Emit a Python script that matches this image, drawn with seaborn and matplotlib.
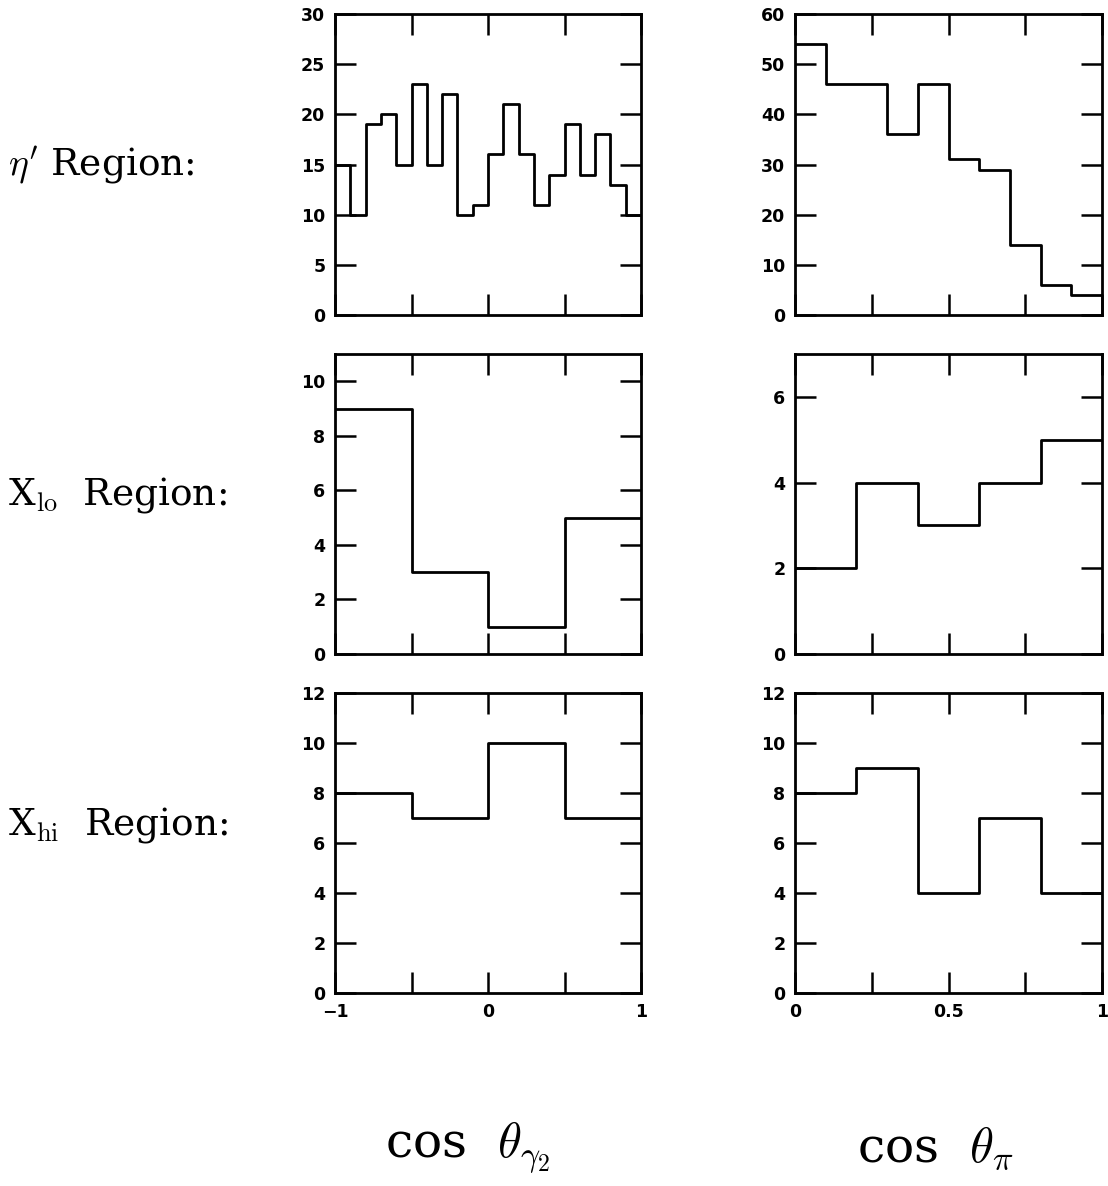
import numpy as np
import pandas as pd
import matplotlib
matplotlib.use("Agg")
import matplotlib.pyplot as plt
import seaborn as sns

sns.set_theme(style="white")
plt.rcParams["font.family"] = ["DejaVu Sans"]
plt.rcParams["mathtext.fontset"] = "cm"
plt.rcParams["text.color"] = "black"

# Bin edges for the two angular variables
gamma_edges_fine = [-1.0, -0.9, -0.8, -0.7, -0.6, -0.5, -0.4, -0.3, -0.2, -0.1, 0.0,
                    0.1, 0.2, 0.3, 0.4, 0.5, 0.6, 0.7, 0.8, 0.9, 1.0]
gamma_edges_coarse = [-1.0, -0.5, 0.0, 0.5, 1.0]
pi_edges_fine = [0.0, 0.1, 0.2, 0.3, 0.4, 0.5, 0.6, 0.7, 0.8, 0.9, 1.0]
pi_edges_coarse = [0.0, 0.2, 0.4, 0.6, 0.8, 1.0]

# Event counts per bin
etap_gamma = [15, 10, 19, 20, 15, 23, 15, 22, 10, 11, 16, 21, 16, 11, 14, 19, 14, 18, 13, 10]
etap_pi = [54, 46, 46, 36, 46, 31, 29, 14, 6, 4]
xlo_gamma = [9, 3, 1, 5]
xlo_pi = [2, 4, 3, 4, 5]
xhi_gamma = [8, 7, 10, 7]
xhi_pi = [8, 9, 4, 7, 4]

row_labels = [r"$\eta'$ Region:", r"X$_{\rm lo}$  Region:", r"X$_{\rm hi}$  Region:"]
col_labels = [r"cos  $\theta_{\gamma_2}$", r"cos  $\theta_{\pi}$"]

panels = [
    (etap_gamma, gamma_edges_fine, 30, [0, 5, 10, 15, 20, 25, 30]),
    (etap_pi, pi_edges_fine, 60, [0, 10, 20, 30, 40, 50, 60]),
    (xlo_gamma, gamma_edges_coarse, 11, [0, 2, 4, 6, 8, 10]),
    (xlo_pi, pi_edges_coarse, 7, [0, 2, 4, 6]),
    (xhi_gamma, gamma_edges_coarse, 12, [0, 2, 4, 6, 8, 10, 12]),
    (xhi_pi, pi_edges_coarse, 12, [0, 2, 4, 6, 8, 10, 12]),
]

W, H = 1108, 1186
fig = plt.figure(figsize=(W / 100, H / 100), dpi=100)

col_x = [(335, 641), (795, 1102)]
row_y = [(14, 315), (354, 654), (693, 993)]

for i, (counts, edges, ymax, yticks) in enumerate(panels):
    r, c = divmod(i, 2)
    x0, x1 = col_x[c]
    y0, y1 = row_y[r]
    ax = fig.add_axes([x0 / W, 1 - y1 / H, (x1 - x0) / W, (y1 - y0) / H])
    edges_arr = np.asarray(edges)
    centers = (edges_arr[:-1] + edges_arr[1:]) / 2
    df = pd.DataFrame({"x": centers, "n": counts})
    sns.histplot(data=df, x="x", weights="n", bins=edges, element="step",
                 fill=False, color="black", linewidth=2.0, ax=ax)
    ax.set_xlim(edges[0], edges[-1])
    ax.set_ylim(0, ymax)
    ax.set_xlabel("")
    ax.set_ylabel("")
    for s in ax.spines.values():
        s.set_visible(True)
        s.set_color("black")
        s.set_linewidth(2.0)
    ax.set_yticks(yticks)
    if c == 0:
        ax.set_xticks([-1, -0.5, 0, 0.5, 1])
        xlabels = ["\u22121", "", "0", "", "1"]
    else:
        ax.set_xticks([0, 0.25, 0.5, 0.75, 1])
        xlabels = ["0", "", "0.5", "", "1"]
    ax.set_xticklabels(xlabels if r == 2 else [])
    ax.set_yticklabels([str(t) for t in yticks])
    ax.tick_params(axis="both", direction="in", length=15, width=1.8,
                   top=True, right=True, bottom=True, left=True,
                   labelsize=12.5, pad=7, colors="black")
    for lab in ax.get_xticklabels() + ax.get_yticklabels():
        lab.set_fontweight("bold")
    ax.grid(False)

# Row labels
row_label_y = [165, 495, 825]
for lbl, y in zip(row_labels, row_label_y):
    fig.text(8 / W, 1 - y / H, lbl, ha="left", va="center",
             fontsize=27, family="DejaVu Serif", color="black")

# Column axis titles
col_label_x = [468, 935]
for lbl, x in zip(col_labels, col_label_x):
    fig.text(x / W, 1 - 1148 / H, lbl, ha="center", va="center",
             fontsize=35, family="DejaVu Serif", color="black")

fig.savefig("out.png", dpi=100, facecolor="white")
